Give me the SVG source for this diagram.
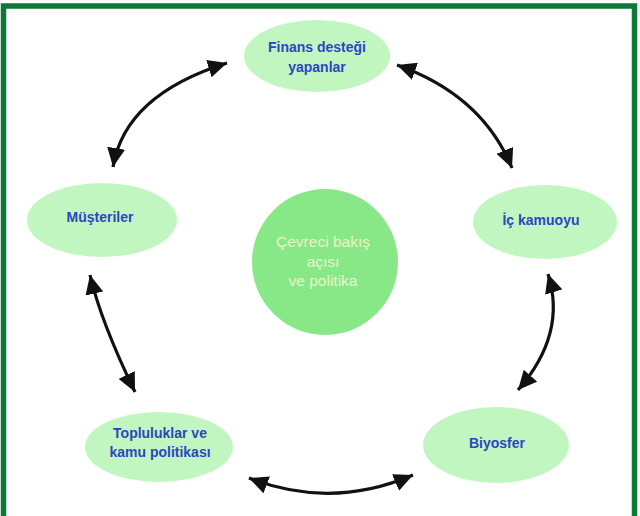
<svg xmlns="http://www.w3.org/2000/svg" width="640" height="516" viewBox="0 0 640 516">
<defs>
<style>
.node{fill:#c2f6c0;}
.lbl{font-family:"Liberation Sans",Arial,sans-serif;font-size:14px;font-weight:bold;fill:#2c46c4;text-anchor:middle;}
.ctr{font-family:"Liberation Sans",Arial,sans-serif;font-size:15.5px;fill:#e8f6c6;text-anchor:middle;}
.conn{fill:none;stroke:#111;stroke-width:3.2;marker-start:url(#ah);marker-end:url(#ah);}
</style>
<marker id="ah" markerUnits="userSpaceOnUse" markerWidth="20" markerHeight="18" refX="19" refY="9" orient="auto-start-reverse" viewBox="0 0 20 18">
<path d="M0,0 L19,9 L0,18 Z" fill="#111"/>
</marker>
</defs>
<rect x="0" y="0" width="640" height="516" fill="#ffffff"/>
<rect x="3.5" y="6" width="631" height="530" fill="none" stroke="#0b7a35" stroke-width="5.5"/>
<g id="connectors">
<path class="conn" d="M113,167 Q125,95 227,63"/>
<path class="conn" d="M397,65 Q482,95 512,168"/>
<path class="conn" d="M548,274 Q567,334 518,390"/>
<path class="conn" d="M249,478 Q331,510 413,475"/>
<path class="conn" d="M90,275 Q101,322 135,392"/>
</g>
<g id="center">
<circle cx="325" cy="262" r="73" fill="#88e888"/>
<text class="ctr" x="323" y="247">Çevreci bakış</text>
<text class="ctr" x="323" y="267">açısı</text>
<text class="ctr" x="323" y="286">ve politika</text>
</g>
<g id="finans">
<ellipse class="node" cx="317" cy="56" rx="73" ry="36"/>
<text class="lbl" x="317" y="52">Finans desteği</text>
<text class="lbl" x="317" y="72">yapanlar</text>
</g>
<g id="musteriler">
<ellipse class="node" cx="102" cy="220" rx="75" ry="37"/>
<text class="lbl" x="100" y="222">Müşteriler</text>
</g>
<g id="ickamuoyu">
<ellipse class="node" cx="545" cy="222" rx="72" ry="37"/>
<text class="lbl" x="541" y="225">İç kamuoyu</text>
</g>
<g id="topluluklar">
<ellipse class="node" cx="159" cy="447" rx="74" ry="35"/>
<text class="lbl" x="160" y="438">Topluluklar ve</text>
<text class="lbl" x="160" y="457">kamu politikası</text>
</g>
<g id="biyosfer">
<ellipse class="node" cx="496" cy="445" rx="73" ry="38"/>
<text class="lbl" x="497" y="448">Biyosfer</text>
</g>
</svg>
